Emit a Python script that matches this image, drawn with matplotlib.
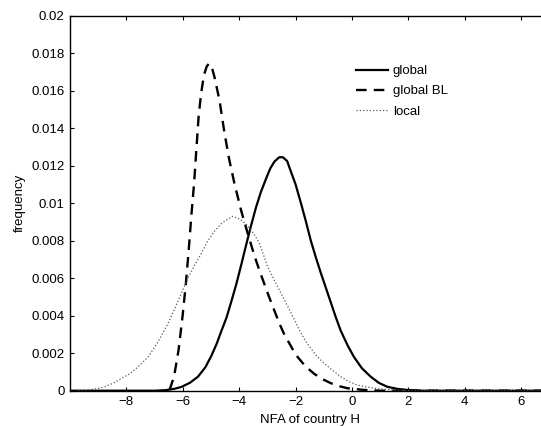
import matplotlib
matplotlib.use("Agg")
import matplotlib.pyplot as plt

plt.rcParams['font.family'] = ['Liberation Sans', 'DejaVu Sans']

# values
nfa_global = [-10, -7.0, -6.6, -6.3, -6.05, -5.75, -5.46, -5.2, -4.99, -4.8, -4.64, -4.45,
              -4.29, -4.1, -3.93, -3.75, -3.58, -3.4, -3.23, -3.05, -2.9, -2.75, -2.58,
              -2.45, -2.3, -2.17, -2.0, -1.81, -1.63, -1.46, -1.28, -1.11, -0.93, -0.75,
              -0.57, -0.40, -0.15, 0.07, 0.35, 0.66, 0.95, 1.25, 1.6, 1.96, 2.5, 7]
freq_global = [0, 0, 0.00003, 0.0001, 0.0002, 0.00042, 0.00075, 0.00125, 0.00185, 0.0025,
               0.00315, 0.0039, 0.0047, 0.0057, 0.0067, 0.0078, 0.0088, 0.0098, 0.0106,
               0.0113, 0.01185, 0.01222, 0.01245, 0.01245, 0.01225, 0.0117, 0.0110,
               0.0100, 0.0090, 0.0080, 0.0071, 0.0063, 0.0055, 0.0047, 0.0039, 0.0032,
               0.0024, 0.0018, 0.0012, 0.00075, 0.00042, 0.00021, 0.0001, 0.00004, 0, 0]

nfa_bl = [-6.47, -6.31, -6.15, -6.01, -5.89, -5.79, -5.70, -5.60, -5.52, -5.44, -5.35,
          -5.25, -5.15, -5.07, -4.98, -4.88, -4.70, -4.52, -4.35, -4.17, -3.93, -3.70,
          -3.46, -3.28, -3.11, -2.94, -2.76, -2.58, -2.40, -2.1, -1.93, -1.65, -1.34,
          -1.05, -0.75, -0.45, -0.16, 0.42, 1.0, 7]
freq_bl = [0.00004, 0.00075, 0.00217, 0.00395, 0.00573, 0.0075, 0.00928, 0.01106,
           0.01284, 0.01461, 0.01586, 0.01684, 0.0173, 0.01745, 0.0173, 0.01675, 0.0155,
           0.01373, 0.0123, 0.01106, 0.0096, 0.0084, 0.0072, 0.0064, 0.0057, 0.0050,
           0.0043, 0.0036, 0.0030, 0.0022, 0.0018, 0.0013, 0.0009, 0.00062, 0.0004,
           0.00024, 0.00013, 0.00004, 0, 0]

nfa_local = [-9.7, -9.35, -9.0, -8.76, -8.47, -8.17, -7.88, -7.58, -7.23, -6.88, -6.52,
             -6.28, -6.05, -5.82, -5.58, -5.35, -5.11, -4.88, -4.64, -4.45, -4.25, -4.05,
             -3.88, -3.70, -3.5, -3.29, -3.14, -2.99, -2.76, -2.52, -2.28, -2.05, -1.82,
             -1.58, -1.28, -0.99, -0.70, -0.40, -0.1, 0.19, 0.55, 0.90, 1.48, 2.0, 7]
freq_local = [0.0, 0.00004, 0.00012, 0.00021, 0.0004, 0.00066, 0.0009, 0.00128, 0.0018,
              0.0026, 0.0036, 0.0044, 0.0052, 0.006, 0.0067, 0.0073, 0.0080, 0.0085,
              0.0089, 0.0091, 0.0093, 0.0092, 0.00905, 0.0088, 0.0084, 0.0079, 0.00725,
              0.0066, 0.0059, 0.0052, 0.0045, 0.0038, 0.0031, 0.0025, 0.0019, 0.00146,
              0.0011, 0.00075, 0.00048, 0.0003, 0.00019, 0.00011, 0.00004, 0, 0]

xticks = [-8, -6, -4, -2, 0, 2, 4, 6]
yticks = [0, 0.002, 0.004, 0.006, 0.008, 0.01, 0.012, 0.014, 0.016, 0.018, 0.02]
ytick_labels = ['0', '0.002', '0.004', '0.006', '0.008', '0.01', '0.012', '0.014',
                '0.016', '0.018', '0.02']

fig = plt.figure(figsize=(5.41, 4.26), dpi=100)
# right edge of the axes lies outside the picture, as in the reference
ax = fig.add_axes([70 / 541, 1 - 390.7 / 426, 479.4 / 541, 375 / 426])

ax.plot(nfa_global, freq_global, color='black', lw=1.6, label='global')
ax.plot(nfa_bl, freq_bl, color='black', lw=1.7, linestyle=(0, (4.5, 3)), label='global BL')
ax.plot(nfa_local, freq_local, color='0.35', lw=0.9, linestyle=':', label='local')

ax.set_xlim(-10, 7)
ax.set_ylim(0, 0.02)
ax.set_xticks(xticks)
ax.set_yticks(yticks)
ax.set_yticklabels(ytick_labels)
ax.tick_params(direction='in', top=True, right=True, length=3, labelsize=9.5, pad=4)
for s in ax.spines.values():
    s.set_linewidth(1.0)

ax.set_xlabel("NFA of country H", fontsize=9.5, labelpad=4)
ax.set_ylabel("frequency", fontsize=9.5, labelpad=4)

ax.legend(loc='upper left', bbox_to_anchor=(356 / 541, 1 - 65 / 426),
          bbox_transform=fig.transFigure, frameon=False, fontsize=9.5,
          borderpad=0, borderaxespad=0, handlelength=2.4, handletextpad=0.4,
          labelspacing=0.6)

fig.savefig("out.png", dpi=100)
